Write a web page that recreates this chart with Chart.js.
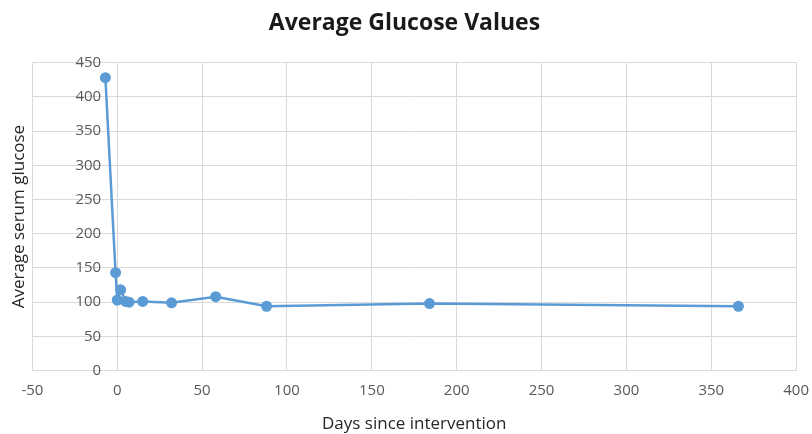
<!DOCTYPE html>
<html>
<head>
<meta charset="utf-8">
<script src="https://cdn.jsdelivr.net/npm/chart.js@4/dist/chart.umd.min.js"></script>
<style>
  html, body { margin: 0; padding: 0; background: #ffffff; }
  #wrap { width: 812px; height: 434px; }
</style>
</head>
<body>
<div id="wrap"><canvas id="c" width="812" height="434"></canvas></div>
<script>
const chartTitle = "Average Glucose Values";
const xTitle = "Days since intervention";
const yTitle = "Average serum glucose";
const days = [-7, -1, 0, 2, 5, 7, 15, 32, 58, 88, 184, 366];
const glucose = [428, 143, 103, 118, 101, 100, 101, 99, 108, 94, 98, 94];
const xRange = [-50, 400];
const yRange = [0, 450];
const xStep = 50;
const yStep = 50;

const points = days.map((d, i) => ({ x: d, y: glucose[i] }));
const blue = "#5B9BD5";
const gridColor = "#D9D9D9";
const tickColor = "#595959";
const fontFamily = "'Open Sans', Lato, sans-serif";

new Chart(document.getElementById("c"), {
  type: "scatter",
  data: {
    datasets: [{
      data: points,
      showLine: true,
      borderColor: blue,
      backgroundColor: blue,
      borderWidth: 2.5,
      pointRadius: 5.5,
      pointHoverRadius: 5.5,
      pointBorderWidth: 0,
      yAxisID: "y"
    }]
  },
  options: {
    responsive: false,
    animation: false,
    layout: { padding: { left: 4, right: 7, top: 0, bottom: 0 } },
    plugins: {
      legend: { display: false },
      tooltip: { enabled: false },
      title: {
        display: true,
        text: chartTitle,
        color: "#1a1a1a",
        font: { family: fontFamily, size: 23, weight: "bold" },
        padding: { top: 10, bottom: 25 }
      }
    },
    scales: {
      x: {
        type: "linear",
        position: "bottom",
        min: xRange[0],
        max: xRange[1],
        ticks: {
          stepSize: xStep,
          color: tickColor,
          font: { family: fontFamily, size: 15 },
          padding: 3,
          maxRotation: 0
        },
        grid: { color: gridColor, lineWidth: 1, drawTicks: true, tickLength: 8, tickColor: "rgba(0,0,0,0)" },
        border: { color: gridColor, width: 1 },
        title: {
          display: true,
          text: xTitle,
          color: "#262626",
          font: { family: fontFamily, size: 17 },
          padding: { top: 11, bottom: 0 }
        }
      },
      yTitleAxis: {
        type: "linear",
        position: "left",
        min: yRange[0],
        max: yRange[1],
        ticks: { display: false },
        grid: { display: false, drawTicks: false },
        border: { display: false },
        title: {
          display: true,
          text: yTitle,
          color: "#262626",
          font: { family: fontFamily, size: 17 },
          padding: { top: 5, bottom: 3 }
        }
      },
      y: {
        type: "linear",
        position: { x: -9.5 },
        min: yRange[0],
        max: yRange[1],
        ticks: {
          stepSize: yStep,
          color: tickColor,
          font: { family: fontFamily, size: 15 }
        },
        grid: { color: gridColor, lineWidth: 1, drawTicks: false },
        border: { display: false }
      }
    }
  }
});
</script>
</body>
</html>
